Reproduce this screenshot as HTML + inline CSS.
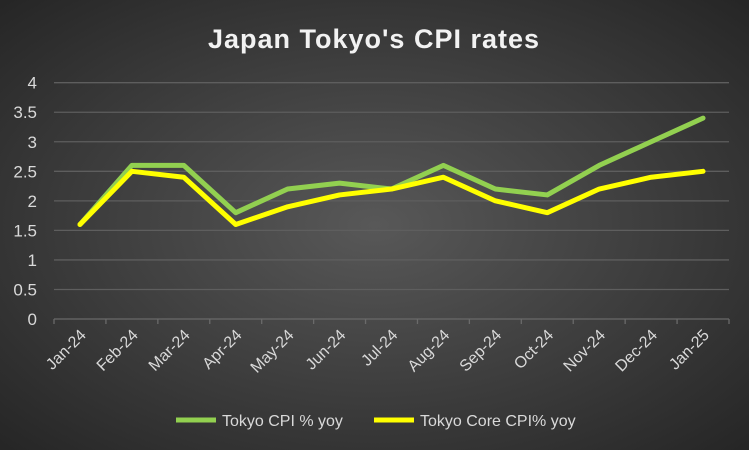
<!DOCTYPE html>
<html><head><meta charset="utf-8"><style>
html,body{margin:0;padding:0;width:749px;height:450px;overflow:hidden;background:#262626;}
svg{display:block;font-family:"Liberation Sans",sans-serif;}
</style></head><body>
<svg width="749" height="450">
<defs><radialGradient id="bg" cx="50%" cy="50%" r="70%"><stop offset="0" stop-color="#585858"/><stop offset="1" stop-color="#262626"/></radialGradient></defs>
<rect width="749" height="450" fill="url(#bg)"/>
<text x="374" y="48" text-anchor="middle" font-size="27" font-weight="bold" fill="#f2f2f2" letter-spacing="1">Japan Tokyo's CPI rates</text>
<g id="grid"></g><g id="series"></g>
<g>
<line x1="176" y1="420" x2="216" y2="420" stroke="#92d050" stroke-width="5"/>
<text x="222" y="426" font-size="16" fill="#d9d9d9">Tokyo CPI % yoy</text>
<line x1="374" y1="420" x2="414" y2="420" stroke="#ffff00" stroke-width="5"/>
<text x="420" y="426" font-size="16" fill="#d9d9d9">Tokyo Core CPI% yoy</text>
</g>
</svg>
<script>
const categories=["Jan-24","Feb-24","Mar-24","Apr-24","May-24","Jun-24","Jul-24","Aug-24","Sep-24","Oct-24","Nov-24","Dec-24","Jan-25"];
const cpi=[1.6,2.6,2.6,1.8,2.2,2.3,2.2,2.6,2.2,2.1,2.6,3.0,3.4];
const core=[1.6,2.5,2.4,1.6,1.9,2.1,2.2,2.4,2.0,1.8,2.2,2.4,2.5];
const yTicks=[0,0.5,1,1.5,2,2.5,3,3.5,4];
const NS="http://www.w3.org/2000/svg";
const x0=54,x1=729,yb=319,yt=82.7,ymax=4;
const bw=(x1-x0)/categories.length;
const X=i=>x0+bw*(i+0.5);
const Y=v=>yb-(v/ymax)*(yb-yt);
const grid=document.getElementById('grid'),ser=document.getElementById('series');
function mk(t,a,p){const e=document.createElementNS(NS,t);for(const k in a)e.setAttribute(k,a[k]);p.appendChild(e);return e;}
yTicks.forEach(v=>{
 const l=mk('line',{x1:x0,x2:x1,y1:Y(v),y2:Y(v),stroke:v===0?'#6a6a6a':'#5e5e5e','stroke-width':1.3},grid);
 
 
 const t=mk('text',{x:37,y:Y(v)+6,'text-anchor':'end','font-size':17,fill:'#d9d9d9'},grid);
 t.textContent=String(v);
 
 
});
for(let i=0;i<=categories.length;i++){
 const l=mk('line',{x1:x0+bw*i,x2:x0+bw*i,y1:yb,y2:yb+5,stroke:'#6a6a6a','stroke-width':1.3},grid);
 
 
}
categories.forEach((c,i)=>{
 const t=mk('text',{x:X(i)+7,y:yb+17,'text-anchor':'end','font-size':16,fill:'#d9d9d9',transform:`rotate(-45 ${X(i)+7} ${yb+17})`},grid);
 t.textContent=c;
 
 
});
function line(d,col,name){
 const p=mk('polyline',{points:d.map((v,i)=>X(i)+','+Y(v)).join(' '),fill:'none',stroke:col,'stroke-width':5,'stroke-linejoin':'round','stroke-linecap':'round'},ser);
 
 
}
line(cpi,'#92d050','series-tokyo-cpi');
line(core,'#ffff00','series-tokyo-core-cpi');
</script>
</body></html>
